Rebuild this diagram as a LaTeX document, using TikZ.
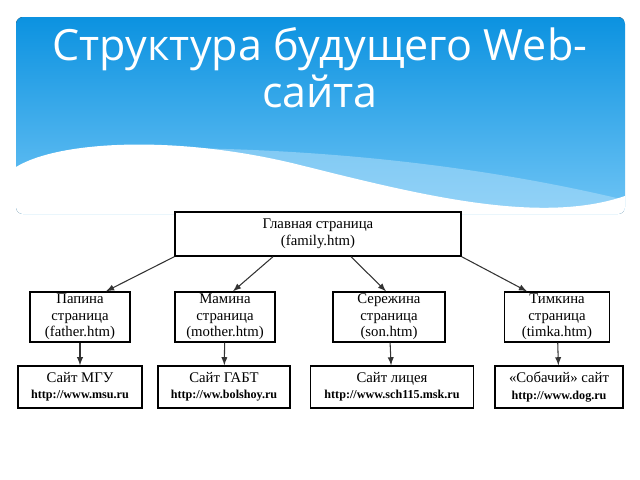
\documentclass[tikz,border=0pt]{standalone}
\usepackage{fontspec}
\setmainfont{Liberation Serif}
\newfontfamily\titlefont{Open Sans}
\usetikzlibrary{positioning}
\definecolor{bandtop}{RGB}{12,146,224}
\definecolor{bandbot}{RGB}{110,196,245}
\tikzset{
  page/.style={draw=black, thick, fill=white, align=center, inner sep=1pt,
    font=\fontsize{8.4}{9.4}\selectfont},
  site/.style={page, font=\fontsize{8.4}{9.2}\selectfont},
  link/.style={->, >=latex, semithick, black!80}
}
\newcommand{\siteurl}[1]{{\fontsize{6.9}{8}\selectfont\bfseries #1}}

\begin{document}
\begin{tikzpicture}[x=0.02cm, y=-0.02cm]
\useasboundingbox (0,0) rectangle (640,480);
\fill[white] (0,0) rectangle (640,480);

%header band
\begin{scope}
\clip[rounded corners=4pt] (16,17) rectangle (625,214);
\fill[top color=bandtop, bottom color=bandbot] (16,17) rectangle (625,214);
\fill[white!50!bandbot, opacity=.5] (180,148) .. controls (350,150) and (500,170) .. (625,200) -- (625,214) -- (16,214) -- cycle;
\fill[white] (16,167) .. controls (60,140) and (180,135) .. (300,165)
  .. controls (420,195) and (540,225) .. (625,196) -- (625,214) -- (16,214) -- cycle;
\end{scope}
\node[text=white, align=center, font=\titlefont\fontsize{24.5}{27}\selectfont] (title) at (320,68)
  {Структура будущего Web-\\сайта};

%main page
\node[page, minimum width=286*0.02cm, minimum height=44*0.02cm] (main) at (318,234)
  {Главная страница\\(family.htm)};

%pages
\node[page, minimum width=100*0.02cm, minimum height=50*0.02cm] (father) at (80,317)
  {Папина\\страница\\(father.htm)};
\node[page, minimum width=100*0.02cm, minimum height=50*0.02cm] (mother) at (225,317)
  {Мамина\\страница\\(mother.htm)};
\node[page, minimum width=112*0.02cm, minimum height=50*0.02cm] (son) at (389,317)
  {Сережина\\страница\\(son.htm)};
\node[page, minimum width=105*0.02cm, minimum height=50*0.02cm] (timka) at (557,317)
  {Тимкина\\страница\\(timka.htm)};

%sites
\node[site, minimum width=124*0.02cm, minimum height=42*0.02cm] (msu) at (80,387)
  {Сайт МГУ\\\siteurl{http://www.msu.ru}};
\node[site, minimum width=132*0.02cm, minimum height=42*0.02cm] (gabt) at (224,387)
  {Сайт ГАБТ\\\siteurl{http://ww.bolshoy.ru}};
\node[site, minimum width=163*0.02cm, minimum height=42*0.02cm] (lyceum) at (392,387)
  {Сайт лицея\\\siteurl{http://www.sch115.msk.ru}};
\node[site, minimum width=128*0.02cm, minimum height=42*0.02cm] (dog) at (559,387)
  {«Собачий» сайт\\\siteurl{http://www.dog.ru}};

%links
\draw[link] (main.south west) -- ([xshift=26*0.02cm]father.north);
\draw[link] ([xshift=-45*0.02cm]main.south) -- ([xshift=8*0.02cm]mother.north);
\draw[link] ([xshift=33*0.02cm]main.south) -- ([xshift=-3*0.02cm]son.north);
\draw[link] (main.south east) -- ([xshift=-30*0.02cm]timka.north);
\draw[link] (father) -- (msu);
\draw[link] (mother) -- (gabt);
\draw[link] (son) -- (lyceum);
\draw[link] (timka) -- (dog);
\end{tikzpicture}
\end{document}
